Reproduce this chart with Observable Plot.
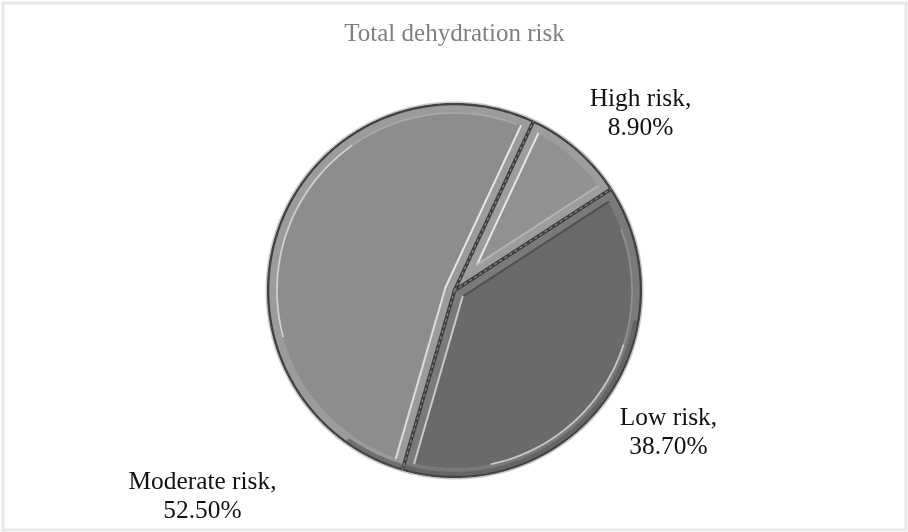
<!DOCTYPE html>
<html>
<head>
<meta charset="utf-8">
<script src="https://cdn.jsdelivr.net/npm/d3@7"></script>
<script src="https://cdn.jsdelivr.net/npm/@observablehq/plot@0.6"></script>
<style>
html,body{margin:0;padding:0;background:#fff;}
svg{display:block;filter:blur(0.6px);}
</style>
</head>
<body>
<div id="chart"></div>
<script>
// Data
const chartTitle = "Total dehydration risk";
const categories = ["High risk", "Low risk", "Moderate risk"];
const shares = [8.9, 38.7, 52.5];
const shareLabels = ["8.90%", "38.70%", "52.50%"];

// Styling / layout options
const W = 908, H = 532, CX = 454, CY = 290, R = 187;
const firstSliceDeg = 25;
const deg = Math.PI / 180;
const faces = ["#919191", "#6a6a6a", "#8d8d8d"];
const bands = ["#9d9d9d", "#7a7a7a", "#9b9b9b"];
const labelOffsets = [[186, 179], [214, -140], [-252, -204]];
// per slice: rim highlight ranges, in degrees clockwise from 12 o'clock
const rimHighlights = [
  [],
  [[70, 108, "#8f8f8f"], [108, 168, "#c8c8c8"]],
  [[255, 325, "#cfcfcf"], [325, 380, "#a8a8a8"]]
];
const sideColors = [["#e6e6e6", "#b4b4b4"], ["#4f4f4f", "#c8c8c8"], ["#dcdcdc", "#e6e6e6"]];

const arcs = d3.pie().sort(null).startAngle(firstSliceDeg * deg).endAngle((firstSliceDeg + 360) * deg)(shares);
const pt = (a, r) => ({x: r * Math.sin(a), y: r * Math.cos(a)});

function hubOf(a0, a1, k) {
  const half = (a1 - a0) / 2;
  return pt((a0 + a1) / 2, k / Math.sin(half));
}
function insetOutline(a0, a1, k) {
  const rr = R - k, d = Math.asin(k / rr);
  const hub = hubOf(a0, a1, k);
  const n = Math.ceil((a1 - a0) / deg);
  const rim = d3.range(n + 1).map(i => pt(a0 + d + (a1 - a0 - 2 * d) * i / n, rr));
  return [hub, ...rim, hub];
}
function rimArc(from, to, k) {
  const n = Math.ceil(to - from);
  return d3.range(n + 1).map(i => pt((from + (to - from) * i / n) * deg, R - k));
}
const lineOpts = o => ({x: "x", y: "y", ...o});

const marks = [
  Plot.frame({inset: 2.5, stroke: "#e8e8e8", strokeWidth: 3}),
  Plot.text([chartTitle], {frameAnchor: "top", dy: 23, text: d => d, fontSize: 25, fill: "#7f7f7f", lineAnchor: "top"})
];

// soft shadow around the pie
marks.push(Plot.line(rimArc(0, 360, -1), lineOpts({stroke: "#c9c9c9", strokeWidth: 2})));

arcs.forEach((s, i) => {
  const a0 = s.startAngle, a1 = s.endAngle;
  marks.push(Plot.line(insetOutline(a0, a1, 0), lineOpts({fill: "#3f3f3f", stroke: "#3f3f3f", strokeWidth: 1})));
  marks.push(Plot.line(insetOutline(a0, a1, 1.8), lineOpts({fill: bands[i]})));
  marks.push(Plot.line(insetOutline(a0, a1, 9.5), lineOpts({fill: faces[i]})));
  const line = insetOutline(a0, a1, 9.5);
  marks.push(Plot.line(line.slice(0, 2), lineOpts({stroke: sideColors[i][0], strokeWidth: 2})));
  marks.push(Plot.line(line.slice(-2), lineOpts({stroke: sideColors[i][1], strokeWidth: 2})));
  rimHighlights[i].forEach(([from, to, color]) =>
    marks.push(Plot.line(rimArc(from, to, 9.5), lineOpts({stroke: color, strokeWidth: 1.8}))));
});

// darker lower rim
marks.push(Plot.line(rimArc(100, 215, 3.5), lineOpts({stroke: "#5c5c5c", strokeWidth: 4.5, strokeOpacity: 0.7})));

// dashed seam between slices
arcs.forEach(s => {
  const e = pt(s.startAngle, R);
  marks.push(Plot.line([{x: 0, y: 0}, e], lineOpts({stroke: "#8a8a8a", strokeWidth: 1.2, strokeDasharray: "2,4"})));
});

const labelData = categories.map((c, i) => ({
  text: `${c},\n${shareLabels[i]}`, x: labelOffsets[i][0], y: labelOffsets[i][1]
}));
marks.push(Plot.text(labelData, {x: "x", y: "y", text: "text", fontSize: 25.4, fill: "#111", lineHeight: 1.13, textAnchor: "middle"}));

const chart = Plot.plot({
  width: W, height: H, margin: 0,
  style: {fontFamily: "'Liberation Serif', serif", background: "#fff", overflow: "visible"},
  x: {domain: [-R, R], range: [CX - R, CX + R], axis: null},
  y: {domain: [-R, R], range: [CY + R, CY - R], axis: null},
  marks
});
document.getElementById("chart").append(chart);
</script>
</body>
</html>
